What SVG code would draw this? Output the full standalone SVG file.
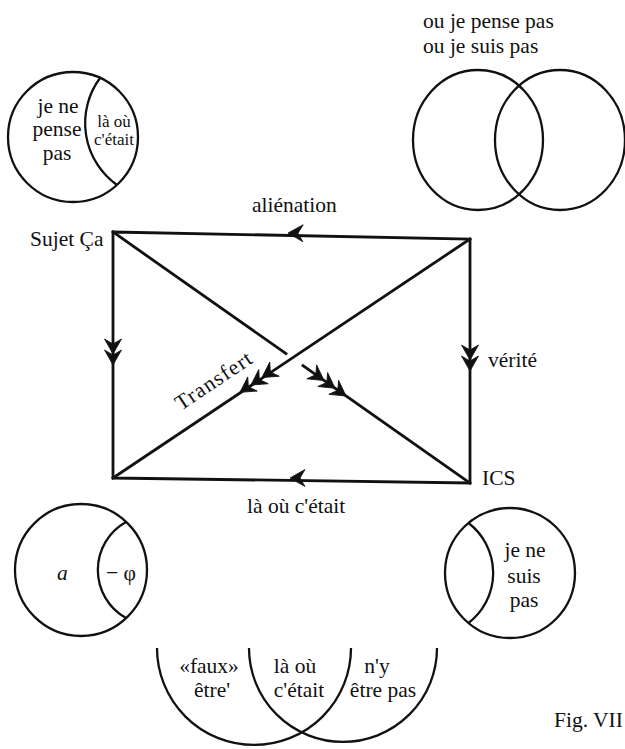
<svg xmlns="http://www.w3.org/2000/svg" width="625" height="749" viewBox="0 0 625 749">
<style>
  .t { font-family: "Liberation Serif", "Times New Roman", serif; font-size: 21.5px; fill: #111; }
  .s { font-size: 17px; }
  .m { text-anchor: middle; }
  .ln { stroke: #111; stroke-width: 2.8; fill: none; stroke-linecap: square; }
  .c { stroke: #111; stroke-width: 2.3; fill: none; }
  .ah { fill: #111; stroke: #111; stroke-width: 0.8; stroke-linejoin: miter; }
</style>
<defs>
  <path id="ah" class="ah" d="M0,0 L-15,-8.5 L-10,0 L-15,8.5 Z"/>
</defs>
<rect width="625" height="749" fill="#fff"/>

<g id="circle-top-left">
  <circle class="c" cx="73" cy="137" r="65"/>
  <path class="c" d="M100,78 A76,76 0 0 0 117,185"/>
  <text class="t m" x="58" y="113">je ne</text>
  <text class="t m" x="57" y="136">pense</text>
  <text class="t m" x="57" y="160">pas</text>
  <text class="t s m" x="114" y="127">là où</text>
  <text class="t s m" x="114" y="145">c'était</text>
</g>

<g id="venn-top-right">
  <text class="t" x="423" y="28">ou je pense pas</text>
  <text class="t" x="423" y="53">ou je suis pas</text>
  <ellipse class="c" cx="478" cy="140" rx="65" ry="70"/>
  <ellipse class="c" cx="560" cy="140" rx="65" ry="70"/>
</g>

<g id="node-sujet">
  <text class="t" x="30" y="246">Sujet Ça</text>
</g>
<g id="node-ics">
  <text class="t" x="482" y="485">ICS</text>
</g>

<g id="connectors">
  <path class="ln" d="M113,232 L470,239 L470,483 L113,478 Z"/>
  <line class="ln" x1="113" y1="232" x2="286" y2="353.6"/>
  <line class="ln" x1="303" y1="365.6" x2="470" y2="483"/>
  <line class="ln" x1="470" y1="239" x2="113" y2="478"/>
  <use href="#ah" transform="translate(288,233) rotate(181)"/>
  <use href="#ah" transform="translate(290,478) rotate(180)"/>
  <use href="#ah" transform="translate(113,354) rotate(90)"/>
  <use href="#ah" transform="translate(113,365) rotate(90)"/>
  <use href="#ah" transform="translate(470,360) rotate(90)"/>
  <use href="#ah" transform="translate(470,371) rotate(90)"/>
  <use href="#ah" transform="translate(262,377.5) rotate(146.2)"/>
  <use href="#ah" transform="translate(251,385) rotate(146.2)"/>
  <use href="#ah" transform="translate(240,392.3) rotate(146.2)"/>
  <use href="#ah" transform="translate(324,380.5) rotate(35.1)"/>
  <use href="#ah" transform="translate(335,388.2) rotate(35.1)"/>
  <use href="#ah" transform="translate(346,396) rotate(35.1)"/>
  <text class="t" x="252" y="212">aliénation</text>
  <text class="t" x="488" y="367">vérité</text>
  <text class="t" x="247" y="513">là où c'était</text>
  <text class="t" transform="translate(181,411) rotate(-33.8)" letter-spacing="1.2">Transfert</text>
</g>

<g id="circle-bottom-left">
  <circle class="c" cx="81" cy="570" r="66"/>
  <path class="c" d="M126,522 A55,55 0 0 0 126,618"/>
  <text class="t" x="57" y="580" font-style="italic">a</text>
  <text class="t" x="106" y="580">− φ</text>
</g>

<g id="circle-bottom-right">
  <circle class="c" cx="510" cy="573" r="65"/>
  <path class="c" d="M468.5,523 A63,63 0 0 1 468.5,623"/>
  <text class="t m" x="525" y="557">je ne</text>
  <text class="t m" x="524" y="583">suis</text>
  <text class="t m" x="524" y="607">pas</text>
</g>

<g id="arcs-bottom">
  <path class="c" d="M157,648 A97,97 0 0 0 351,648"/>
  <path class="c" d="M249,648 A94,94 0 0 0 437,648"/>
  <text class="t m" x="209" y="673" font-size="20">«faux»</text>
  <text class="t m" x="212" y="697" font-size="20">être'</text>
  <text class="t m" x="295" y="673" font-size="20">là où</text>
  <text class="t m" x="299" y="697" font-size="20">c'était</text>
  <text class="t m" x="377" y="673" font-size="20">n'y</text>
  <text class="t m" x="383" y="697" font-size="20">être pas</text>
</g>

<g id="caption">
  <text class="t" x="554" y="727" font-size="21">Fig. VII</text>
</g>
</svg>
